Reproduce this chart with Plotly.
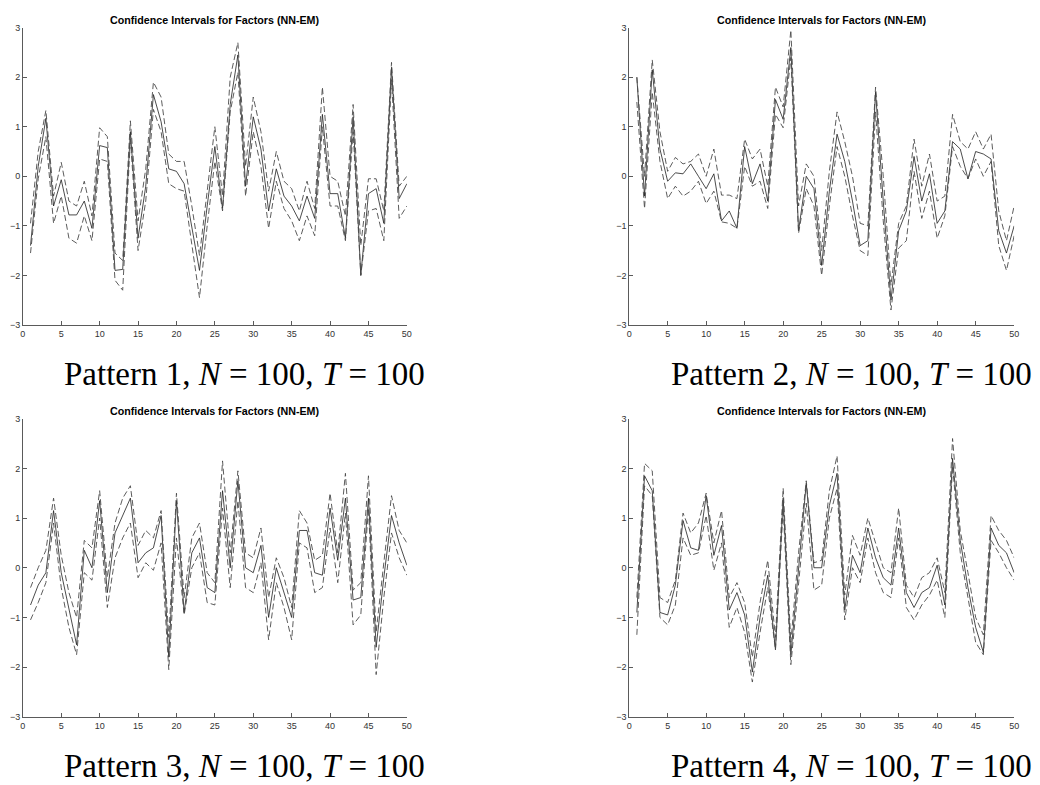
import plotly.graph_objects as go

# factor index
t = list(range(1, 51))

# Pattern 1: estimated factor with upper / lower confidence bounds
est1 = [-1.4, 0.2, 1.17, -0.6, -0.07, -0.78, -0.78, -0.5, -1.05, 0.62,
        0.58, -1.9, -1.88, 0.9, -1.25, -0.2, 1.65, 1.1, 0.15, 0.1,
        -0.15, -1.0, -1.9, -0.6, 0.6, -0.65, 1.45, 2.45, -0.2, 1.2,
        0.55, -0.7, 0.15, -0.4, -0.6, -0.9, -0.4, -0.85, 1.25, -0.35,
        -0.35, -1.25, 1.2, -2.0, -0.35, -0.25, -0.95, 2.2, -0.45, -0.15]
upper1 = [-0.95, 0.5, 1.33, -0.4, 0.28, -0.5, -0.6, -0.1, -0.8, 0.98,
          0.8, -1.55, -1.7, 1.12, -0.9, 0.15, 1.9, 1.6, 0.45, 0.3,
          0.3, -0.6, -1.6, -0.3, 1.0, -0.4, 2.0, 2.7, 0.2, 1.6,
          0.9, -0.3, 0.5, -0.1, -0.25, -0.7, -0.1, -0.65, 1.8, 0.0,
          -0.1, -0.8, 1.45, -1.4, -0.05, -0.05, -0.7, 2.3, -0.2, 0.0]
lower1 = [-1.55, -0.05, 0.8, -0.95, -0.4, -1.25, -1.35, -0.8, -1.3, 0.35,
          0.3, -2.1, -2.3, 0.75, -1.5, -0.5, 1.35, 0.9, -0.15, -0.25,
          -0.3, -1.4, -2.45, -1.0, 0.3, -0.7, 1.3, 2.1, -0.4, 0.9,
          0.2, -1.05, -0.1, -0.65, -0.9, -1.3, -0.8, -1.2, 1.0, -0.6,
          -0.6, -1.3, 0.9, -2.0, -0.7, -0.65, -1.3, 1.95, -0.85, -0.6]

# Pattern 2
est2 = [2.0, -0.4, 2.15, 0.55, -0.1, 0.07, 0.05, 0.25, 0.0, -0.25,
        0.05, -0.9, -0.7, -1.05, 0.6, -0.15, 0.25, -0.5, 1.55, 1.15,
        2.6, -1.1, 0.0, -0.25, -1.8, -0.3, 0.85, 0.3, -0.5, -1.4,
        -1.3, 1.7, -0.5, -2.5, -1.1, -0.7, 0.4, -0.5, 0.05, -0.95,
        -0.7, 0.7, 0.55, -0.05, 0.5, 0.45, 0.35, -1.1, -1.55, -1.0]
upper2 = [2.0, 0.0, 2.35, 0.9, 0.1, 0.38, 0.25, 0.3, 0.45, 0.0,
          0.55, -0.38, -0.38, -0.45, 0.75, 0.35, 0.55, -0.2, 1.8, 1.4,
          2.95, -0.6, 0.25, 0.0, -1.5, 0.1, 1.3, 0.7, 0.0, -0.95,
          -1.0, 1.8, 0.0, -2.2, -0.95, -0.6, 0.75, -0.2, 0.45, -0.5,
          -0.4, 1.25, 0.7, 0.55, 0.9, 0.55, 0.85, -0.7, -1.3, -0.6]
lower2 = [1.5, -0.65, 1.7, 0.3, -0.45, -0.2, -0.4, -0.3, -0.1, -0.55,
          -0.3, -0.92, -0.95, -1.05, 0.2, -0.2, -0.1, -0.65, 1.25, 0.98,
          2.4, -1.15, -0.25, -0.6, -2.0, -0.6, 0.6, 0.0, -0.8, -1.5,
          -1.6, 1.3, -0.9, -2.7, -1.45, -1.3, 0.1, -0.85, -0.3, -1.25,
          -0.8, 0.6, 0.2, -0.05, 0.35, 0.0, 0.3, -1.4, -1.9, -1.2]

# Pattern 3
est3 = [-0.75, -0.35, -0.1, 1.15, -0.1, -0.8, -1.55, 0.35, 0.0, 1.35,
        -0.5, 0.7, 1.05, 1.4, 0.1, 0.3, 0.4, 1.05, -1.8, 1.35,
        -0.9, 0.3, 0.6, -0.4, -0.5, 1.55, 0.0, 1.75, 0.0, -0.1,
        0.45, -1.0, 0.0, -0.5, -1.0, 0.75, 0.75, -0.1, -0.15, 1.2,
        0.15, 1.4, -0.65, -0.6, 1.4, -1.6, -0.2, 1.05, 0.5, 0.05]
upper3 = [-0.4, 0.0, 0.35, 1.4, 0.25, -0.5, -1.0, 0.55, 0.4, 1.55,
          -0.2, 0.9, 1.4, 1.65, 0.45, 0.75, 0.6, 1.15, -1.4, 1.5,
          -0.6, 0.6, 0.9, -0.1, -0.3, 2.15, 0.3, 1.95, 0.3, 0.2,
          0.8, -0.6, 0.2, -0.2, -0.8, 1.15, 0.9, 0.15, 0.25, 1.5,
          0.3, 1.9, -0.45, -0.3, 1.85, -1.3, 0.1, 1.45, 0.75, 0.5]
lower3 = [-1.05, -0.7, -0.3, 0.9, -0.4, -1.2, -1.75, -0.1, -0.25, 1.0,
          -0.8, 0.2, 0.6, 0.9, -0.2, 0.1, -0.05, 0.5, -2.05, 0.6,
          -0.95, 0.0, 0.3, -0.7, -0.75, 1.2, -0.4, 1.35, -0.4, -0.5,
          0.1, -1.45, -0.3, -0.8, -1.45, 0.5, 0.4, -0.5, -0.4, 0.8,
          -0.3, 1.1, -1.15, -0.95, 1.2, -2.15, -0.6, 0.7, 0.2, -0.15]

# Pattern 4
est4 = [-0.9, 1.85, 1.55, -0.9, -0.95, -0.35, 0.95, 0.4, 0.35, 1.45,
        0.25, 0.85, -0.85, -0.5, -0.95, -2.1, -1.0, -0.15, -1.65, 1.4,
        -1.75, 0.0, 1.7, 0.0, 0.0, 1.25, 1.9, -0.85, 0.25, -0.1,
        0.8, 0.2, -0.2, -0.35, 0.8, -0.5, -0.8, -0.5, -0.4, 0.05,
        -0.75, 2.2, 0.55, -0.4, -1.2, -1.7, 0.8, 0.45, 0.3, -0.1]
upper4 = [-0.6, 2.1, 1.95, -0.6, -0.7, -0.25, 1.1, 0.7, 0.9, 1.5,
          0.5, 1.15, -0.6, -0.3, -0.7, -1.8, -0.7, 0.15, -1.4, 1.6,
          -1.5, 0.3, 1.75, 0.1, 0.15, 1.55, 2.25, -0.55, 0.65, 0.25,
          1.0, 0.5, 0.0, -0.1, 1.2, -0.35, -0.6, -0.2, -0.1, 0.2,
          -0.5, 2.6, 0.75, -0.1, -1.0, -1.35, 1.05, 0.75, 0.55, 0.2]
lower4 = [-1.35, 1.65, 1.45, -1.0, -1.15, -0.75, 0.6, 0.25, 0.3, 1.05,
          -0.05, 0.5, -1.2, -0.8, -1.3, -2.3, -1.3, -0.4, -1.65, 1.2,
          -1.95, -0.4, 1.3, -0.45, -0.35, 1.0, 1.6, -1.05, 0.0, -0.3,
          0.6, -0.1, -0.5, -0.6, 0.6, -0.8, -1.05, -0.75, -0.55, -0.25,
          -1.0, 2.05, 0.3, -0.6, -1.5, -1.75, 0.55, 0.3, 0.0, -0.25]

panel_title = "Confidence Intervals for Factors (NN-EM)"
captions = ["Pattern 1", "Pattern 2", "Pattern 3", "Pattern 4"]
sample_text = ", <i>N</i> = 100, <i>T</i> = 100"

W, H = 1040, 785
# plot boxes in pixels: (left, right, top, bottom)
boxes = [(20, 407, 23, 324), (631, 1019, 23, 324),
         (20, 407, 419, 721), (631, 1019, 419, 721)]

series = [(est1, upper1, lower1), (est2, upper2, lower2),
          (est3, upper3, lower3), (est4, upper4, lower4)]

fig = go.Figure()
axis_color = "#5a5a5a"
tick_font = dict(family="Liberation Sans, Arial, sans-serif", size=9, color="#333333")

for k, ((est, up, lo), (l, r, tp, bt)) in enumerate(zip(series, boxes)):
    n = "" if k == 0 else str(k + 1)
    xa, ya = "x" + n, "y" + n
    for vals in (est, up, lo):
        is_est = vals is est
        fig.add_trace(go.Scatter(
            x=t, y=vals, xaxis=xa, yaxis=ya, mode="lines",
            line=dict(color="#1e1e1e" if is_est else "#4a4a4a",
                      width=0.8 if is_est else 0.9,
                      dash="solid" if is_est else "6px,3px"),
            showlegend=False, hoverinfo="skip"))
    common = dict(showline=True, linecolor=axis_color, linewidth=0.8,
                  ticks="inside", ticklen=4, tickcolor=axis_color, tickwidth=0.8,
                  showgrid=False, zeroline=False, tickfont=tick_font)
    fig.layout["xaxis" + n] = dict(common, domain=[l / W, r / W], anchor=ya,
                                   range=[0, 50], tick0=0, dtick=5)
    fig.layout["yaxis" + n] = dict(common, domain=[1 - bt / H, 1 - tp / H], anchor=xa,
                                   range=[-3, 3], tick0=-3, dtick=1)
    cx = (l + r) / 2
    fig.add_annotation(x=cx / W, y=1 - (tp - 8) / H, xref="paper", yref="paper",
                       text="<b>" + panel_title + "</b>", showarrow=False,
                       xanchor="center", yanchor="middle",
                       font=dict(family="Liberation Sans, Arial, sans-serif", size=10.7, color="#000000"))
    fig.add_annotation(x=(cx + 30) / W, y=1 - (bt + 50) / H, xref="paper", yref="paper",
                       text=captions[k] + sample_text, showarrow=False,
                       xanchor="center", yanchor="middle",
                       font=dict(family="Liberation Serif, Times New Roman, serif", size=33, color="#000000"))

fig.update_layout(width=W, height=H, margin=dict(l=0, r=0, t=0, b=0),
                  paper_bgcolor="white", plot_bgcolor="white")

fig.write_html("out.html")
